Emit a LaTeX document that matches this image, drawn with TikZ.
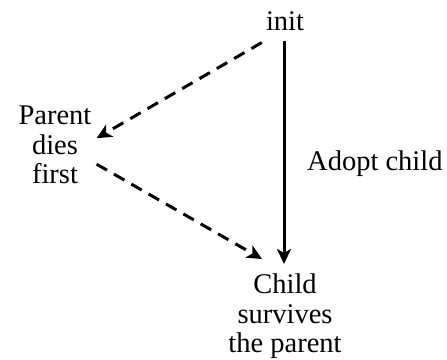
\documentclass[tikz,border=0pt]{standalone}
\usepackage{fontspec}
\setmainfont{Liberation Serif}
\usetikzlibrary{arrows.meta}
\begin{document}
\begin{tikzpicture}[x=1pt,y=-1pt,
  font=\fontsize{28.5}{29.5}\selectfont,
  lbl/.style={inner sep=0pt, align=center, text=black},
  conn/.style={line width=3pt, -{Stealth[length=15pt,width=14pt,inset=4pt]}},
  dsh/.style={conn, dash pattern=on 12pt off 8pt}]
\useasboundingbox (0,0) rectangle (447,359);
\node[lbl, anchor=north] (init) at (285,11) {init};
\node[lbl, anchor=north] (parent) at (55,106) {Parent\\dies\\first};
\node[lbl, anchor=north] (child) at (285,274) {Child\\survives\\the parent};
\node[lbl, anchor=base west] (adopt) at (307,170) {Adopt child};
\draw[conn] ([shift={(-1,10)}]init.south) -- ([shift={(-1,-10)}]child.north);
\draw[dsh] ([shift={(-4,12)}]init.south west) -- ([shift={(5,-7)}]parent.east);
\draw[dsh] ([shift={(5,19)}]parent.east) -- ([shift={(-23,-15)}]child.north);
\end{tikzpicture}
\end{document}
